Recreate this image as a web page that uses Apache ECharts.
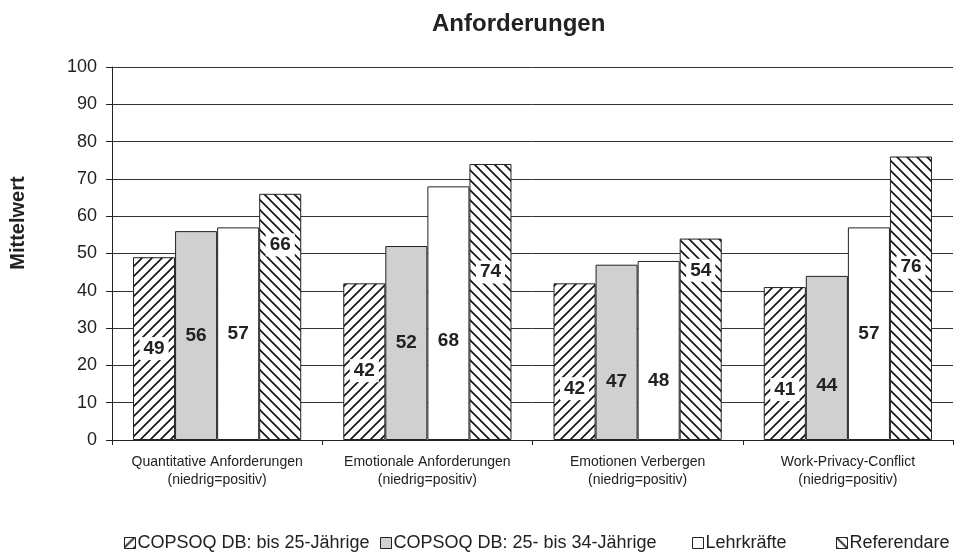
<!DOCTYPE html>
<html><head><meta charset="utf-8">
<script src="https://cdn.jsdelivr.net/npm/echarts@6/dist/echarts.min.js"></script>
<style>html,body{margin:0;padding:0;background:#fff}#c{width:961px;height:557px}</style>
</head><body><div id="c"></div>
<script>
const categories = ['Quantitative Anforderungen\n(niedrig=positiv)', 'Emotionale Anforderungen\n(niedrig=positiv)', 'Emotionen Verbergen\n(niedrig=positiv)', 'Work-Privacy-Conflict\n(niedrig=positiv)'];
const seriesNames = ['COPSOQ DB: bis 25-Jährige', 'COPSOQ DB: 25- bis 34-Jährige', 'Lehrkräfte', 'Referendare'];
const bis25 = [49, 42, 42, 41];
const bis34 = [56, 52, 47, 44];
const lehrkraefte = [57, 68, 48, 57];
const referendare = [66, 74, 54, 76];
const yTicks = [0, 10, 20, 30, 40, 50, 60, 70, 80, 90, 100];

// label vertical nudges (style only)
const labelNudge = [
  [0, 9, 27, 26],
  [0, 0, 29, 28],
  [0, 28, 30, 0],
  [-72, -30, -69, -31]
];

function hatch(dir) {
  const s = 10, c = document.createElement('canvas');
  c.width = s; c.height = s;
  const g = c.getContext('2d');
  g.fillStyle = '#fff'; g.fillRect(0, 0, s, s);
  g.strokeStyle = '#111'; g.lineWidth = 1.6;
  g.beginPath();
  if (dir > 0) {
    g.moveTo(-2, s + 2); g.lineTo(s + 2, -2);
    g.moveTo(-2, 2); g.lineTo(2, -2);
    g.moveTo(s - 2, s + 2); g.lineTo(s + 2, s - 2);
  } else {
    g.moveTo(-2, -2); g.lineTo(s + 2, s + 2);
    g.moveTo(s - 2, -2); g.lineTo(s + 2, 2);
    g.moveTo(-2, s - 2); g.lineTo(2, s + 2);
  }
  g.stroke();
  return { image: c, repeat: 'repeat' };
}

const fills = [hatch(1), '#d0d0d0', '#ffffff', hatch(-1)];
const values = [bis25, bis34, lehrkraefte, referendare];
const labelBg = ['#fff', 'transparent', 'transparent', '#fff'];

const series = values.map((vals, si) => ({
  name: seriesNames[si],
  type: 'bar',
  barGap: '0%',
  barCategoryGap: '20%',
  itemStyle: { color: fills[si], borderColor: '#222', borderWidth: 1 },
  data: vals.map((v, ci) => ({
    value: v,
    label: { offset: [0, labelNudge[si][ci]] }
  })),
  label: {
    show: true, position: 'inside',
    fontFamily: 'Liberation Sans', fontWeight: 'bold', fontSize: 19, color: '#222',
    backgroundColor: labelBg[si], padding: [3, 4, 1, 4]
  }
}));

const legendLefts = [124, 380, 692, 836];
const legends = seriesNames.map((n, i) => ({
  data: [n], left: legendLefts[i], top: 534, icon: 'rect', padding: 0,
  itemWidth: 11, itemHeight: 11, itemGap: 3,
  textStyle: { fontFamily: 'Liberation Sans', fontSize: 18, color: '#222', padding: [0, 0, 0, -3] },
  itemStyle: { borderColor: '#222', borderWidth: 1 }
}));

const chart = echarts.init(document.getElementById('c'), null, { renderer: 'canvas' });
chart.setOption({
  animation: false,
  backgroundColor: '#fff',
  title: {
    text: 'Anforderungen', left: 427, top: 7,
    textStyle: { fontFamily: 'Liberation Sans', fontWeight: 'bold', fontSize: 24, color: '#222' }
  },
  graphic: [{
    type: 'text', x: 18, y: 223, rotation: Math.PI / 2,
    style: { text: 'Mittelwert', fontFamily: 'Liberation Sans', fontWeight: 'bold', fontSize: 20,
      fill: '#222', align: 'center', verticalAlign: 'middle' }
  }],
  legend: legends,
  grid: { left: 112, right: 8, top: 67, bottom: 117 },
  xAxis: {
    type: 'category', data: categories,
    axisLine: { lineStyle: { color: '#222', width: 1 } },
    axisTick: { show: true, interval: 0, length: 5, lineStyle: { color: '#222' } },
    axisLabel: { interval: 0, fontFamily: 'Liberation Sans', fontSize: 14, color: '#222', lineHeight: 18, margin: 13 }
  },
  yAxis: {
    type: 'value', min: 0, max: 100, interval: 10,
    axisLine: { show: true, lineStyle: { color: '#222', width: 1 } },
    axisTick: { show: true, length: 6, lineStyle: { color: '#222' } },
    axisLabel: { fontFamily: 'Liberation Sans', fontSize: 18, color: '#222', margin: 15,
      formatter: v => yTicks.includes(v) ? String(v) : '' },
    splitLine: { show: true, lineStyle: { color: '#333', width: 1 } }
  },
  series: series
});
</script></body></html>
